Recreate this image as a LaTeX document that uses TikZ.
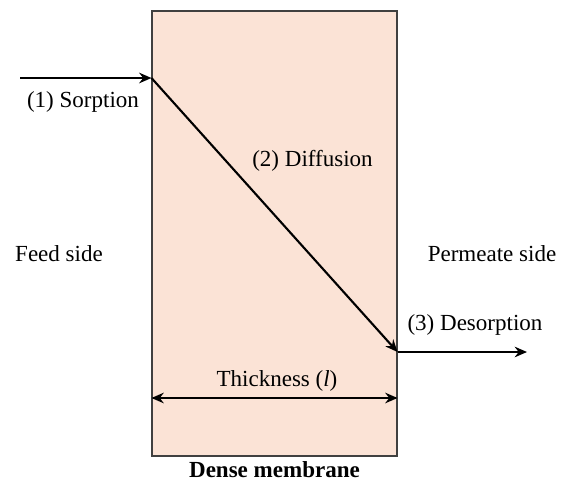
\documentclass[tikz,border=0pt]{standalone}
\usepackage{fontspec}
\setmainfont{Liberation Serif}
\definecolor{dmFill}{HTML}{FBE3D6}
\definecolor{dmEdge}{HTML}{404040}
\definecolor{dmText}{HTML}{000000}
\usetikzlibrary{calc,positioning,arrows.meta}
\tikzset{
  flow/.style={line width=1.2pt, -{Stealth[length=7pt,width=6pt]}},
  label/.style={font=\fontsize{13.1}{15}\selectfont, text=dmText}
}

\begin{document}
\begin{tikzpicture}
  \useasboundingbox (0,0) rectangle (11.26,9.72);
  % membrane
  \node[draw=dmEdge, fill=dmFill, line width=0.6pt, minimum width=4.9cm, minimum height=8.9cm, inner sep=0pt] (membrane) at (5.49,5.05) {};
  \coordinate (feed) at (0.40,8.16);
  \coordinate (sorb) at (membrane.west |- feed);
  \coordinate (desorb) at (membrane.east |- 0,2.68);
  \coordinate (perm) at (10.54,2.68);
  \draw[flow] (feed) -- (sorb);
  \draw[flow] (sorb) -- (desorb);
  \draw[flow] (desorb) -- (perm);
  % thickness
  \coordinate (thkL) at (membrane.west |- 0,1.76);
  \coordinate (thkR) at (membrane.east |- 0,1.76);
  \draw[line width=1.2pt, {Stealth[length=7pt,width=6pt]}-{Stealth[length=7pt,width=6pt]}] (thkL) -- (thkR);
  % labels
  \node[label] (sorption) at (1.66,7.68) {(1) Sorption};
  \node[label] (diffusion) at (6.25,6.5) {(2) Diffusion};
  \node[label] (desorption) at (9.5,3.22) {(3) Desorption};
  \node[label] (feedside) at (1.18,4.64) {Feed side};
  \node[label] (permside) at (9.84,4.64) {Permeate side};
  \node[label] (thickness) at (5.54,2.1) {Thickness (\textit{l})};
  \node[label, font=\fontsize{13.1}{15}\selectfont\bfseries] (dense) at (5.49,0.32) {Dense membrane};
\end{tikzpicture}
\end{document}
